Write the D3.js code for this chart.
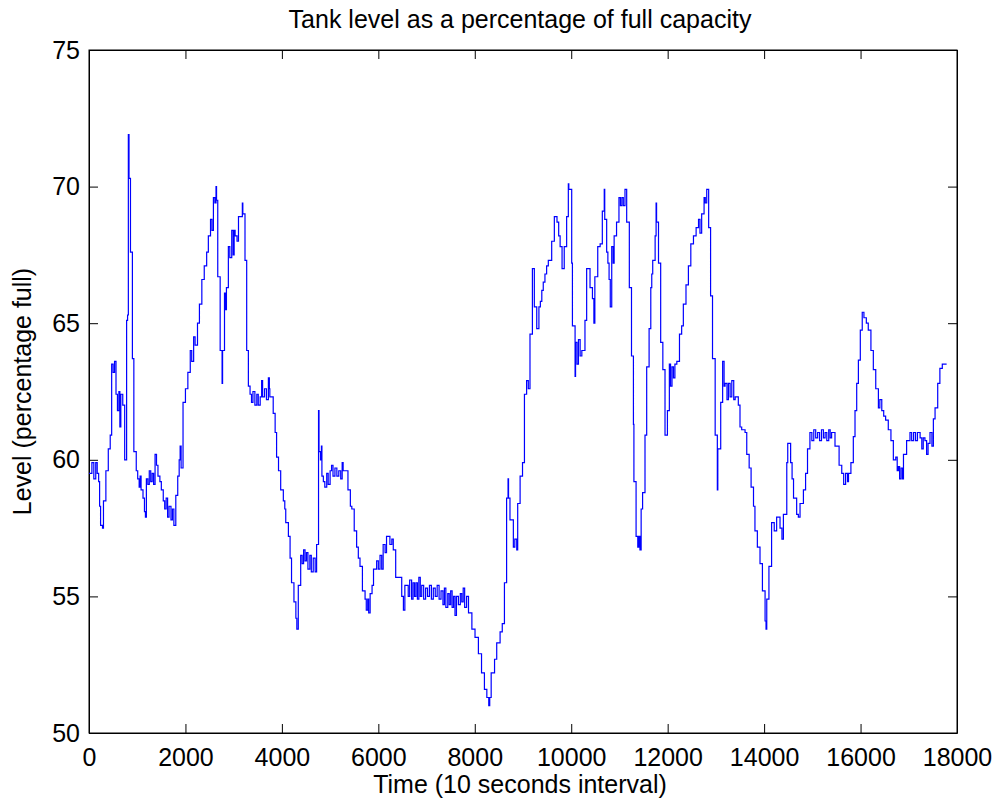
<html>
<head>
<script src="https://d3js.org/d3.v7.min.js"></script>
<style>
  body { margin: 0; background: #fff; }
  text { font-family: "Liberation Sans", Arial, sans-serif; fill: #000; }
</style>
</head>
<body>
<svg id="chart" width="995" height="805"></svg>
<script>
// tick values
const xTicks = [0, 2000, 4000, 6000, 8000, 10000, 12000, 14000, 16000, 18000];
const yTicks = [50, 55, 60, 65, 70, 75];

// samples: time (10 s steps) and level (% full), held until next sample
const timeSteps = [
  0,60,100,140,170,200,220,240,280,300,350,400,440,470,500,530,560,590,620,640,660,700,740,780,800,816,830,860,900,930,
  980,1010,1040,1060,1080,1120,1150,1170,1190,1220,1250,1280,1310,1340,1370,1400,1430,1470,1500,1540,1570,1600,1630,1660,1700,1730,1760,1800,1840,1870,
  1890,1910,1950,2000,2050,2100,2130,2170,2200,2250,2290,2340,2390,2440,2475,2520,2550,2580,2610,2634,2645,2670,2720,2760,2770,2810,2830,2850,2890,2920,
  2960,2990,3010,3030,3070,3100,3180,3190,3235,3270,3305,3340,3370,3400,3440,3480,3510,3550,3580,3600,3640,3680,3720,3740,3750,3820,3860,3890,3930,3975,
  4030,4060,4080,4135,4170,4200,4250,4290,4310,4340,4390,4420,4450,4480,4510,4540,4580,4610,4650,4690,4720,4760,4770,4800,4820,4830,4860,4890,4930,4960,
  5000,5030,5060,5100,5140,5180,5220,5250,5270,5370,5420,5450,5500,5550,5585,5620,5670,5725,5750,5780,5800,5830,5870,5900,5965,6000,6035,6070,6100,6140,
  6170,6240,6280,6310,6360,6485,6520,6550,6620,6650,6690,6720,6750,6780,6810,6840,6870,6900,6940,6980,7020,7060,7100,7140,7180,7220,7260,7300,7340,7370,
  7400,7440,7470,7500,7530,7560,7590,7620,7660,7700,7730,7760,7790,7830,7870,7940,8005,8075,8140,8200,8250,8290,8310,8340,8410,8455,8525,8570,8615,8660,
  8690,8700,8730,8800,8830,8870,8890,8940,8990,9030,9075,9110,9145,9195,9235,9285,9330,9360,9390,9420,9455,9490,9525,9595,9650,9705,9740,9770,9810,9855,
  9905,9940,9950,10010,10025,10080,10090,10120,10150,10185,10220,10285,10320,10390,10440,10470,10490,10550,10600,10645,10685,10695,10735,10760,10785,10810,10840,10870,10890,10940,
  10990,11020,11050,11080,11115,11150,11205,11250,11290,11300,11345,11380,11400,11425,11450,11480,11530,11565,11615,11650,11670,11690,11740,11760,11770,11810,11855,11900,11945,11995,
  12035,12060,12090,12120,12150,12190,12245,12290,12325,12380,12430,12480,12535,12590,12640,12670,12705,12755,12780,12810,12850,12890,12930,12985,13030,13040,13100,13140,13170,13190,
  13230,13260,13295,13330,13370,13400,13465,13500,13535,13605,13640,13690,13730,13780,13810,13860,13915,13965,14020,14040,14055,14100,14155,14210,14260,14330,14370,14400,14470,14490,
  14550,14580,14610,14675,14710,14745,14815,14860,14900,14950,14990,15030,15070,15110,15150,15190,15230,15265,15300,15340,15370,15400,15470,15555,15610,15650,15690,15730,15750,15800,
  15850,15885,15920,15955,15995,16035,16070,16120,16160,16215,16265,16315,16370,16400,16440,16480,16520,16575,16630,16680,16730,16760,16785,16810,16840,16870,16890,16955,17025,17060,
  17100,17140,17180,17235,17270,17300,17335,17370,17400,17440,17480,17510,17545,17600,17645,17695,17785
];
const levelPct = [
  59.5,59.9,59.3,59.9,59.5,59.2,58.3,57.6,57.5,58.5,59.6,60.4,60.9,63.5,63.2,63.6,62.4,61.8,62.5,61.2,62.4,62.0,60.0,65.1,65.3,71.9,70.3,67.6,63.7,60.3,
  59.6,59.3,59.0,59.4,58.9,58.6,58.1,57.9,59.3,59.1,59.6,59.2,59.5,59.1,60.2,59.8,59.4,59.2,58.9,58.5,58.2,58.6,57.9,58.3,57.8,58.2,57.6,58.7,59.4,60.0,
  60.5,59.7,62.1,62.6,63.2,64.0,63.6,64.5,64.2,65.0,65.7,66.6,67.1,67.6,68.2,68.8,68.4,69.6,69.4,70.0,69.5,66.7,64.0,62.8,64.0,66.1,65.5,66.3,67.8,67.4,
  68.4,67.5,68.4,68.2,68.0,68.9,69.4,69.0,67.3,64.0,62.7,62.4,62.1,62.5,62.0,62.4,62.0,62.3,62.9,62.3,62.6,62.2,63.0,62.6,62.3,61.7,61.0,60.1,59.6,58.9,
  58.5,58.2,57.7,57.2,56.4,55.5,54.8,54.2,53.8,55.4,56.5,56.2,56.7,56.3,56.6,56.0,56.5,55.9,56.4,55.9,56.9,61.8,60.3,60.0,60.5,59.4,59.2,59.0,59.5,59.1,
  59.6,59.8,59.4,59.7,59.4,59.6,59.3,59.9,59.6,58.9,58.3,58.2,57.4,56.8,56.4,56.1,55.2,54.9,54.5,54.9,54.4,55.1,55.4,56.0,56.3,56.0,56.5,56.0,56.9,56.6,
  57.2,56.9,57.1,56.7,55.7,55.0,54.5,55.4,55.0,55.6,54.9,55.5,55.0,55.5,54.9,55.7,55.0,55.4,54.9,55.3,55.0,55.4,54.9,55.3,55.0,55.4,54.9,55.2,54.7,55.3,
  54.6,55.1,54.7,55.2,54.6,55.0,54.3,55.0,54.7,55.1,54.8,55.3,54.6,55.0,54.4,53.8,53.5,52.9,52.2,51.6,51.3,51.0,51.3,52.2,52.7,53.3,53.7,54.0,55.5,58.6,
  59.3,58.6,57.8,56.8,57.1,56.7,58.4,59.4,59.9,62.4,62.9,62.6,64.6,67.0,65.6,64.8,65.6,65.8,66.2,66.5,66.8,67.1,67.3,68.0,68.9,68.7,68.2,67.8,67.0,67.8,
  68.9,70.1,69.9,67.2,64.9,63.05,64.3,63.5,64.4,63.8,64.0,65.1,67.0,66.3,65.9,65.0,66.7,67.8,67.9,69.1,69.9,68.8,67.6,67.2,66.6,65.6,67.8,67.2,68.2,68.7,
  69.6,69.3,69.6,69.3,69.9,68.7,66.3,63.8,61.3,59.2,57.2,56.8,57.2,56.7,58.2,58.8,60.9,63.4,64.8,66.3,66.8,67.3,68.2,69.4,68.7,67.2,64.3,63.3,60.9,61.8,
  63.5,62.7,63.4,63.0,63.5,63.6,64.6,64.9,65.7,66.4,67.1,67.9,68.2,68.5,68.8,68.3,69.0,69.6,69.4,69.9,68.5,66.0,63.7,60.9,58.9,60.4,62.1,63.6,62.7,62.8,
  62.2,62.8,62.3,62.9,62.2,62.3,62.0,61.2,61.1,61.0,60.2,59.7,59.0,58.3,57.4,56.8,56.2,55.2,54.1,53.8,54.9,56.1,57.7,57.4,57.9,57.5,57.1,58.0,59.9,60.6,
  59.9,59.3,58.6,58.0,57.9,58.4,58.9,59.5,60.4,61.0,60.7,61.1,60.8,61.0,60.7,61.1,60.8,61.0,60.7,61.1,60.8,61.0,60.5,59.8,59.5,59.1,59.5,59.2,59.5,59.9,
  60.85,61.8,62.8,63.65,64.75,65.4,65.2,65.0,64.75,64.0,63.3,62.6,61.9,62.2,61.8,61.6,61.45,61.1,60.7,60.0,60.1,59.6,59.75,59.3,59.7,59.3,60.2,60.7,61.0,60.7,
  61.0,60.7,61.0,60.8,60.4,60.8,60.7,60.2,60.6,61.0,60.5,61.5,61.9,62.8,63.35,63.5,63.5
];

const svg = d3.select("#chart");
const margin = { top: 50, right: 38, bottom: 72, left: 89 };
const width = +svg.attr("width") - margin.left - margin.right;
const height = +svg.attr("height") - margin.top - margin.bottom;
const g = svg.append("g").attr("transform", `translate(${margin.left},${margin.top})`);

const x = d3.scaleLinear().domain([0, 18000]).range([0, width]);
const y = d3.scaleLinear().domain([50, 75]).range([height, 0]);

const tickLen = 9;

// matlab style: ticks inside on all four sides
g.append("g").attr("transform", `translate(0,${height})`)
  .call(d3.axisBottom(x).tickValues(xTicks).tickSizeInner(-tickLen).tickSizeOuter(0).tickPadding(15).tickFormat(d3.format("d")))
  .call(a => a.selectAll("text").style("font-size", "25px"));
g.append("g")
  .call(d3.axisTop(x).tickValues(xTicks).tickSizeInner(-tickLen).tickSizeOuter(0).tickFormat(""));
g.append("g")
  .call(d3.axisLeft(y).tickValues(yTicks).tickSizeInner(-tickLen).tickSizeOuter(0).tickPadding(9))
  .call(a => a.selectAll("text").style("font-size", "25px"));
g.append("g").attr("transform", `translate(${width},0)`)
  .call(d3.axisRight(y).tickValues(yTicks).tickSizeInner(-tickLen).tickSizeOuter(0).tickFormat(""));

g.selectAll(".domain").attr("stroke", "#000");
g.selectAll(".tick line").attr("stroke", "#000");

g.append("rect").attr("width", width).attr("height", height)
  .attr("fill", "none").attr("stroke", "#000").attr("stroke-width", 1);

const pts = timeSteps.map((t, i) => [t, levelPct[i]]);
const line = d3.line().x(d => x(d[0])).y(d => y(d[1])).curve(d3.curveStepAfter);

g.append("path").datum(pts)
  .attr("d", line)
  .attr("fill", "none")
  .attr("stroke", "#0000ff")
  .attr("stroke-width", 1.2);

svg.append("text").attr("x", margin.left + width / 2 - 3).attr("y", 28)
  .attr("text-anchor", "middle").style("font-size", "25px")
  .text("Tank level as a percentage of full capacity");

svg.append("text").attr("x", margin.left + width / 2 - 3).attr("y", 793)
  .attr("text-anchor", "middle").style("font-size", "25px")
  .text("Time (10 seconds interval)");

svg.append("text")
  .attr("transform", `translate(31,${margin.top + height / 2}) rotate(-90)`)
  .attr("text-anchor", "middle").style("font-size", "25px")
  .text("Level (percentage full)");
</script>
</body>
</html>
